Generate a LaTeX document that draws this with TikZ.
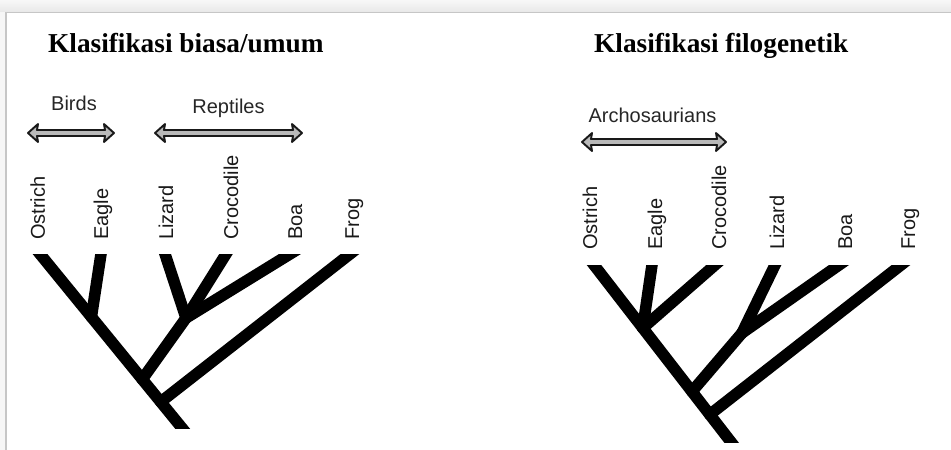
\documentclass[tikz,border=0pt]{standalone}
\usepackage{fontspec}
\setmainfont{Liberation Serif}
\newfontfamily\labfont{Liberation Sans}
\usetikzlibrary{calc}
\newcommand\grparrow[2]{%
  \path[brk] (#1) -- ++(10,-9) -- ++(-1,6) -- ($(#2)+(-9,-3)$) -- ++(-1,-6) -- (#2)
    -- ++(-10,9) -- ++(1,-6) -- ($(#1)+(9,3)$) -- ++(1,6) -- cycle;}
\begin{document}
\begin{tikzpicture}[x=1pt,y=-1pt,
  branch/.style={line width=11.5pt, line cap=round, draw=black},
  taxon/.style={font=\labfont\fontsize{20}{24}\selectfont, rotate=90, anchor=base west, inner sep=0pt, text=black!90},
  grp/.style={font=\labfont\fontsize{20}{24}\selectfont, anchor=base, inner sep=0pt, text=black!85},
  ttl/.style={font=\bfseries\fontsize{27.3}{32}\selectfont, anchor=base west, inner sep=0pt},
  brk/.style={fill=gray!55, draw=black!90, line width=1.9pt, line join=round}]
\useasboundingbox (0,0) rectangle (951,450);
% frame
\shade[top color=gray!6, bottom color=gray!18] (0,0) rectangle (951,12);
\fill[gray!7] (0,12) rectangle (5,450);
\draw[gray!45, line width=1.5pt] (6,450) -- (6,12.5) -- (951,12.5);
% titles
\node[ttl] (t1) at (48,52) {Klasifikasi biasa/umum};
\node[ttl] (t2) at (594,52) {Klasifikasi filogenetik};
% group labels and brackets
\node[grp] (gBirds) at (74,110) {Birds};
\node[grp] (gRept) at (228.5,113) {Reptiles};
\node[grp] (gArch) at (652.5,122) {Archosaurians};
\coordinate (bA1) at (28,133); \coordinate (bA2) at (114,133);
\coordinate (bB1) at (155,133); \coordinate (bB2) at (302,133);
\coordinate (bC1) at (582,142); \coordinate (bC2) at (726,142);
\grparrow{bA1}{bA2}
\grparrow{bB1}{bB2}
\grparrow{bC1}{bC2}
% taxa, left
\node[taxon] (lnO) at (45,240) {Ostrich};
\node[taxon] (lnE) at (108,240) {Eagle};
\node[taxon] (lnL) at (173,240) {Lizard};
\node[taxon] (lnC) at (238,240) {Crocodile};
\node[taxon] (lnB) at (302,240) {Boa};
\node[taxon] (lnF) at (359,240) {Frog};
% taxa, right
\node[taxon] (rnO) at (597,250) {Ostrich};
\node[taxon] (rnE) at (662,250) {Eagle};
\node[taxon] (rnC) at (726,250) {Crocodile};
\node[taxon] (rnL) at (784,250) {Lizard};
\node[taxon] (rnB) at (852,250) {Boa};
\node[taxon] (rnF) at (915,250) {Frog};
% left tree
\coordinate (lO) at (40,254); \coordinate (lR) at (182,428);
\coordinate (lE) at (101,254); \coordinate (lL) at (165,254);
\coordinate (lC) at (226,254); \coordinate (lB) at (290,254);
\coordinate (lF) at (350,254);
\coordinate (lJe) at ($(lO)!0.362!(lR)$);
\coordinate (lJ) at (186,318);
\coordinate (lJp) at ($(lO)!0.72!(lR)$);
\coordinate (lJf) at ($(lO)!0.85!(lR)$);
\begin{scope}
\clip (0,254) rectangle (480,428);
\draw[branch] ($(lR)!1.2!(lO)$) -- ($(lO)!1.2!(lR)$);
\draw[branch] (lJe) -- ($(lJe)!1.3!(lE)$);
\draw[branch] (lJ) -- ($(lJ)!1.3!(lL)$);
\draw[branch] (lJ) -- ($(lJ)!1.3!(lC)$);
\draw[branch] (lJ) -- ($(lJ)!1.3!(lB)$);
\draw[branch] (lJp) -- (lJ);
\draw[branch] (lJf) -- ($(lJf)!1.2!(lF)$);
\end{scope}
% right tree
\coordinate (rO) at (594,265); \coordinate (rR) at (731,442);
\coordinate (rE) at (652,265); \coordinate (rC) at (715,265);
\coordinate (rL) at (775,265); \coordinate (rB) at (839,265);
\coordinate (rF) at (901,265);
\coordinate (rJe) at ($(rO)!0.356!(rR)$);
\coordinate (rJ) at (742,333);
\coordinate (rJp) at ($(rO)!0.715!(rR)$);
\coordinate (rJf) at ($(rO)!0.845!(rR)$);
\begin{scope}
\clip (480,265) rectangle (951,442);
\draw[branch] ($(rR)!1.2!(rO)$) -- ($(rO)!1.2!(rR)$);
\draw[branch] (rJe) -- ($(rJe)!1.3!(rE)$);
\draw[branch] (rJe) -- ($(rJe)!1.3!(rC)$);
\draw[branch] (rJ) -- ($(rJ)!1.3!(rL)$);
\draw[branch] (rJ) -- ($(rJ)!1.3!(rB)$);
\draw[branch] (rJp) -- (rJ);
\draw[branch] (rJf) -- ($(rJf)!1.2!(rF)$);
\end{scope}
\end{tikzpicture}
\end{document}
